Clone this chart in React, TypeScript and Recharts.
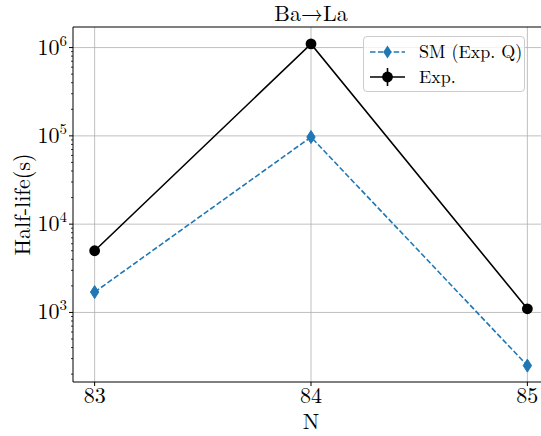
import React from "react"
import {
  LineChart,
  Line,
  XAxis,
  YAxis,
  ReferenceLine,
} from "recharts"

const neutronNumbers = [83, 84, 85]
const smHalfLife = [1700, 97000, 250]
const expHalfLife = [5000, 1.1e6, 1100]

const xTicks = [83, 84, 85]
const majorTicks = [1e3, 1e4, 1e5, 1e6]
const majorExponents = ["3", "4", "5", "6"]
const minorMultipliers = [2, 3, 4, 5, 6, 7, 8, 9]
const decades = [100, 1000, 10000, 100000]

const Y_MIN = 163
const Y_MAX = 1.71e6
const X_MIN = 82.9
const X_MAX = 85.1

const FONT = "Latin Modern Roman"
const BLUE = "#1f77b4"
const GRID = "#b0b0b0"

const minorTicks = decades
  .flatMap((d) => minorMultipliers.map((m) => m * d))
  .filter((v) => v > Y_MIN && v < Y_MAX)
const yTicks = [...minorTicks, ...majorTicks].sort((a, b) => a - b)

const data = neutronNumbers.map((n, i) => ({
  n,
  sm: smHalfLife[i],
  exp: expHalfLife[i],
}))

function YTick(props: any) {
  const { x, y, payload } = props
  const idx = majorTicks.indexOf(payload.value)
  if (idx < 0) {
    return <line x1={x - 2} x2={x} y1={y} y2={y} stroke="#000" strokeWidth={0.8} />
  }
  return (
    <g>
      <line x1={x - 4} x2={x} y1={y} y2={y} stroke="#000" strokeWidth={1} />
      <text x={x - 6} y={y + 7} textAnchor="end" fontSize={22} fontFamily={FONT} fill="#000">
        10
        <tspan dy={-9} fontSize={15}>{majorExponents[idx]}</tspan>
      </text>
    </g>
  )
}

function Diamond(props: any) {
  const { cx, cy, key } = props
  if (cx == null || cy == null) return <g key={key} />
  return (
    <polygon
      key={key}
      points={`${cx},${cy - 6.5} ${cx + 4.2},${cy} ${cx},${cy + 6.5} ${cx - 4.2},${cy}`}
      fill={BLUE}
      stroke={BLUE}
      strokeWidth={1}
    />
  )
}

function Circle(props: any) {
  const { cx, cy, key } = props
  if (cx == null || cy == null) return <g key={key} />
  return <circle key={key} cx={cx} cy={cy} r={5.4} fill="#000" />
}

export default function App() {
  return (
    <div
      style={{
        position: "fixed",
        left: 0,
        top: 0,
        width: 541,
        height: 436,
        overflow: "hidden",
        background: "#fff",
        fontFamily: FONT,
      }}
    >
      <LineChart
        width={560}
        height={436}
        data={data}
        margin={{ top: 27, right: 11, bottom: 0, left: 0 }}
      >
        <XAxis
          dataKey="n"
          type="number"
          domain={[X_MIN, X_MAX]}
          ticks={xTicks}
          allowDataOverflow
          height={54}
          stroke="#000"
          tickSize={4}
          tickMargin={1}
          tick={{ fill: "#000", fontSize: 22, fontFamily: FONT }}
          label={(p: any) => {
            const vb = p.viewBox
            return (
              <text x={vb.x + vb.width / 2} y={429} textAnchor="middle" fontSize={22} fontFamily={FONT} fill="#000">
                N
              </text>
            )
          }}
        />
        <YAxis
          type="number"
          scale="log"
          domain={[Y_MIN, Y_MAX]}
          allowDataOverflow
          ticks={yTicks}
          interval={0}
          width={73}
          stroke="#000"
          tickLine={false}
          tickSize={0}
          tickMargin={0}
          tick={<YTick />}
          label={(p: any) => {
            const vb = p.viewBox
            const cy = vb.y + vb.height / 2
            return (
              <text
                x={30}
                y={cy}
                transform={`rotate(-90, 30, ${cy})`}
                textAnchor="middle"
                fontSize={22}
                fontFamily={FONT}
                fill="#000"
              >
                Half-life(s)
              </text>
            )
          }}
        />
        {majorTicks.map((t) => (
          <ReferenceLine key={"h" + t} y={t} stroke={GRID} strokeWidth={0.8} />
        ))}
        {xTicks.map((t) => (
          <ReferenceLine key={"v" + t} x={t} stroke={GRID} strokeWidth={0.8} />
        ))}
        <ReferenceLine y={Y_MAX} stroke="#000" strokeWidth={1} />
        <ReferenceLine x={X_MAX} stroke="#000" strokeWidth={1} />
        <Line
          dataKey="sm"
          stroke={BLUE}
          strokeWidth={1.6}
          strokeDasharray="5.5 2.4"
          dot={Diamond}
          activeDot={false}
          isAnimationActive={false}
        />
        <Line
          dataKey="exp"
          stroke="#000"
          strokeWidth={1.6}
          dot={Circle}
          activeDot={false}
          isAnimationActive={false}
        />
      </LineChart>
      <svg
        style={{ position: "absolute", left: 0, top: 0, pointerEvents: "none" }}
        width={541}
        height={34}
      >
        <text x={311} y={21} textAnchor="middle" fontSize={22} fontFamily={FONT} fill="#000">
          Ba→La
        </text>
      </svg>
      <div
        style={{
          position: "absolute",
          left: 363,
          top: 36,
          width: 162,
          height: 56,
          boxSizing: "border-box",
          border: "1px solid #cccccc",
          borderRadius: 4,
          background: "rgba(255,255,255,0.8)",
        }}
      >
        <svg width={160} height={54} style={{ display: "block" }}>
          <line x1={6} x2={41} y1={15} y2={15} stroke={BLUE} strokeWidth={1.6} strokeDasharray="5.5 2.4" />
          <polygon points="23.5,8.5 27.7,15 23.5,21.5 19.3,15" fill={BLUE} />
          <text x={55} y={21} fontSize={18} fontFamily={FONT} fill="#000">
            SM (Exp. Q)
          </text>
          <line x1={6} x2={41} y1={40} y2={40} stroke="#000" strokeWidth={1.6} />
          <line x1={23.5} x2={23.5} y1={31} y2={49} stroke="#000" strokeWidth={1.6} />
          <circle cx={23.5} cy={40} r={5.4} fill="#000" />
          <text x={55} y={46} fontSize={18} fontFamily={FONT} fill="#000">
            Exp.
          </text>
        </svg>
      </div>
    </div>
  )
}
